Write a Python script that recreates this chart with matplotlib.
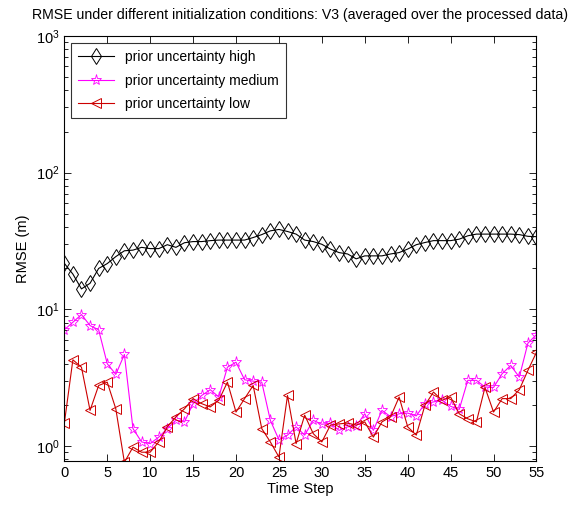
import matplotlib
matplotlib.use("Agg")
import matplotlib.pyplot as plt
import numpy as np
from matplotlib.ticker import LogLocator

time_steps = list(range(56))

rmse_high = [21.7, 18.1, 14.1, 15.5, 19.9, 21.6, 24.3, 26.8, 27.1, 28.4,
             27.8, 27.8, 29.7, 28.4, 30.7, 31.3, 31.3, 31.8, 32.1, 32.1,
             32.1, 32.1, 33.5, 35.2, 37.5, 38.4, 37.1, 35.5, 32.1, 31.3,
             29.9, 27.6, 26.0, 25.4, 23.4, 24.6, 24.6, 24.6, 25.4, 26.0,
             27.6, 29.7, 30.8, 31.8, 31.8, 31.8, 32.6, 34.5, 35.5, 35.5,
             35.5, 35.5, 35.5, 35.2, 34.2, 34.0]

rmse_medium = [7.08, 8.04, 9.15, 7.6, 7.08, 4.0, 3.34, 4.67, 1.34, 1.07,
               1.04, 1.16, 1.34, 1.54, 1.50, 2.04, 2.34, 2.58, 2.28, 3.77,
               4.1, 3.05, 2.98, 2.93, 1.54, 1.11, 1.2, 1.38, 1.2, 1.54,
               1.44, 1.47, 1.30, 1.38, 1.4, 1.72, 1.30, 1.82, 1.64, 1.72,
               1.74, 1.66, 2.04, 2.1, 2.16, 1.95, 1.85, 3.02, 3.02, 2.7,
               2.68, 3.38, 3.88, 3.19, 5.65, 6.53]

rmse_low = [1.46, 4.27, 3.77, 1.82, 2.77, 2.93, 1.87, 0.76, 0.98, 0.90,
            0.90, 1.07, 1.38, 1.63, 1.87, 2.22, 2.04, 1.93, 2.16, 2.93,
            1.77, 2.22, 2.77, 1.34, 1.07, 0.83, 2.34, 1.04, 1.68, 1.23,
            1.07, 1.42, 1.45, 1.47, 1.42, 1.50, 1.16, 1.50, 1.63, 2.28,
            1.38, 1.2, 1.98, 2.48, 2.16, 2.28, 1.72, 1.58, 1.50, 2.68,
            1.77, 2.22, 2.22, 2.58, 3.57, 4.85]

labels = ["prior uncertainty high", "prior uncertainty medium", "prior uncertainty low"]
x_ticks = list(range(0, 56, 5))

plt.rcParams['font.family'] = ['Liberation Sans', 'DejaVu Sans']
plt.rcParams['mathtext.fontset'] = 'custom'
plt.rcParams['mathtext.rm'] = 'Liberation Sans'

fig = plt.figure(figsize=(5.70, 5.09), dpi=100)
ax = fig.add_axes([0.1128, 0.0949, 0.9412 - 0.1128, 0.9293 - 0.0949])

ax.plot(time_steps, rmse_high, color='black', lw=0.8, marker='d', ms=8,
        mfc='none', mec='black', mew=0.7, label=labels[0])
ax.plot(time_steps, rmse_medium, color='#ff00ff', lw=0.8, marker='*', ms=8,
        mfc='none', mec='#ff00ff', mew=0.6, label=labels[1])
ax.plot(time_steps, rmse_low, color='#cc0000', lw=0.8, marker='<', ms=7,
        mfc='none', mec='#cc0000', mew=0.7, label=labels[2])

ax.set_yscale('log')
ax.set_ylim(0.78, 1000)
ax.set_xlim(0, 55)
ax.set_xticks(x_ticks)
ax.set_xticklabels([str(t) for t in x_ticks])
ax.yaxis.set_major_locator(LogLocator(base=10, numticks=10))
ax.yaxis.set_minor_locator(LogLocator(base=10, subs=np.arange(2, 10), numticks=10))

ax.tick_params(axis='both', which='both', direction='in', top=True, right=True,
               labelsize=10.5)
ax.tick_params(which='major', length=5, width=0.6)
ax.tick_params(which='minor', length=3, width=0.6)
for s in ax.spines.values():
    s.set_linewidth(0.8)

ax.set_xlabel('Time Step', fontsize=10.5, labelpad=2)
ax.set_ylabel('RMSE (m)', fontsize=10.5, labelpad=4)
ax.set_title('RMSE under different initialization conditions: V3 (averaged over the processed data)',
             fontsize=10.2, pad=12)

leg = ax.legend(loc='upper left', fontsize=10, frameon=True, fancybox=False,
                edgecolor='black', borderaxespad=0.5, handlelength=2.6,
                labelspacing=0.7, borderpad=0.5)
leg.get_frame().set_linewidth(0.8)

fig.savefig('out.png', dpi=100, facecolor='white')
